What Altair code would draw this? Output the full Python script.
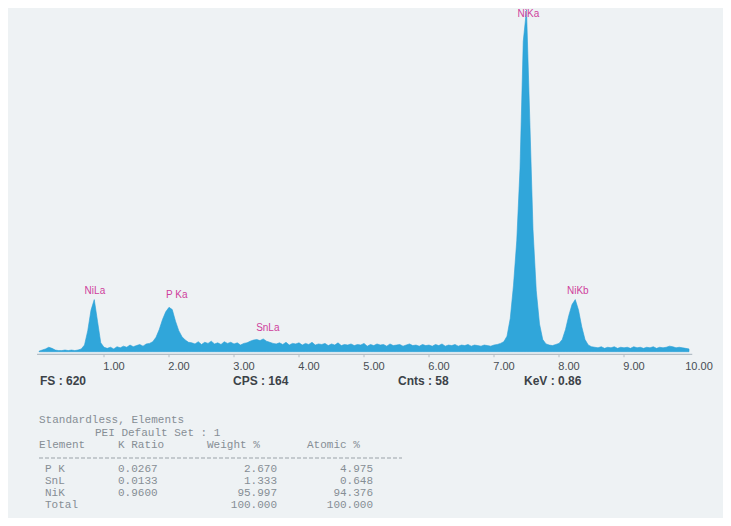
import altair as alt
import pandas as pd

# ---------------- data ----------------
# EDS spectrum, counts per 0.05 keV channel, 0.00 .. 10.00 keV
counts = (
    [1, 3, 5, 8, 6, 3, 2, 2, 3, 2, 3, 2, 3, 5]                      # 0.00-0.65
    + [12, 38, 75, 94, 55, 16, 8]                                   # 0.70-1.00 NiLa
    + [6, 8, 5, 9, 7, 10, 8, 12, 9, 11, 13, 10, 14]                 # 1.05-1.65
    + [15, 18, 26, 40, 58, 72, 80, 76, 55, 38, 27, 21, 17]          # 1.70-2.30 P Ka
    + [16, 14, 18, 13, 17, 15, 19, 14, 16, 13, 18, 15, 17, 14, 16, 12, 15]  # 2.35-3.15
    + [16, 19, 21, 22, 20, 23, 19, 17, 15]                          # 3.20-3.60 SnLa
    + [14, 16, 13, 17, 12, 15, 14, 16, 12, 15,
       13, 17, 12, 14, 13, 15, 11, 14, 12, 16,
       11, 13, 12, 14, 11, 13, 12, 15, 10, 13,
       11, 14, 12, 13, 10, 14, 11, 12, 13, 10,
       12, 14, 11, 12, 10, 13, 11, 12, 10, 13,
       11, 14, 10, 12, 11, 13, 10, 12, 11, 13,
       10, 12, 11, 10, 12, 11, 10, 12, 13, 15]                      # 3.65-7.10
    + [18, 28, 60, 120, 200, 330, 560, 617, 420, 220, 110, 50, 22, 14]  # 7.15-7.80 NiKa
    + [12, 11, 13, 15, 22, 40, 65, 85, 94, 75, 45, 22, 12, 9]       # 7.85-8.50 NiKb
    + [8, 7, 9, 6, 8, 7, 9, 6, 8, 7,
       8, 6, 9, 7, 8, 6, 8, 7, 9, 6,
       8, 7, 8, 10, 9, 7, 8, 7, 6, 5]                               # 8.55-10.00
)
channel_kev = 0.05

tick_values = [1, 2, 3, 4, 5, 6, 7, 8, 9, 10]
tick_labels = ["1.00", "2.00", "3.00", "4.00", "5.00", "6.00", "7.00", "8.00", "9.00", "10.00"]

peak_names = ["NiLa", "P Ka", "SnLa", "NiKa", "NiKb"]
peak_label_kev = [0.86, 2.12, 3.52, 7.53, 8.29]
peak_label_counts = [109, 102, 43, 610, 109]

info_texts = ["FS : 620", "CPS : 164", "Cnts : 58", "KeV : 0.86"]

table_title = ["Standardless, Elements", "PEI Default Set : 1"]
table_header = ["Element", "K Ratio", "Weight %", "Atomic %"]
table_elements = ["P K", "SnL", "NiK", "Total"]
table_kratio = ["0.0267", "0.0133", "0.9600", ""]
table_weight = ["2.670", "1.333", "95.997", "100.000"]
table_atomic = ["4.975", "0.648", "94.376", "100.000"]

# ---------------- layout ----------------
W, H = 715, 510
X_DOMAIN = [-0.477, 10.523]
Y_DOMAIN = [-300, 620]

spec = pd.DataFrame({
    "kev": [round(i * channel_kev, 2) for i in range(len(counts))],
    "counts": counts,
})

xs = alt.Scale(domain=X_DOMAIN, nice=False, zero=False)
ys = alt.Scale(domain=Y_DOMAIN, nice=False, zero=False)

area = alt.Chart(spec).mark_area(
    color="#30a6da", interpolate="linear", stroke="#2a9fd6", strokeWidth=0.6
).encode(
    x=alt.X("kev:Q", scale=xs, axis=None),
    y=alt.Y("counts:Q", scale=ys, axis=None),
    y2=alt.datum(0),
)

axis_df = pd.DataFrame({"x0": [-0.03], "x1": [10.05], "y": [-5]})
axis_line = alt.Chart(axis_df).mark_rule(color="#b3bec6", strokeWidth=1.2).encode(
    x=alt.X("x0:Q", scale=xs, axis=None), x2="x1:Q",
    y=alt.Y("y:Q", scale=ys, axis=None),
)

ticks_df = pd.DataFrame({"v": tick_values[:-1], "ya": -5, "yb": -10})
ticks = alt.Chart(ticks_df).mark_rule(color="#b3bec6", strokeWidth=1).encode(
    x=alt.X("v:Q", scale=xs, axis=None),
    y=alt.Y("ya:Q", scale=ys, axis=None), y2="yb:Q",
)

tl_df = pd.DataFrame({"v": tick_values, "t": tick_labels, "y": -27.7})
tick_text = alt.Chart(tl_df).mark_text(
    font="Liberation Sans", fontSize=11, color="#474d53", dx=10, baseline="middle"
).encode(
    x=alt.X("v:Q", scale=xs, axis=None),
    y=alt.Y("y:Q", scale=ys, axis=None),
    text="t:N",
)

pk_df = pd.DataFrame({"name": peak_names, "kev": peak_label_kev, "c": peak_label_counts})
peak_text = alt.Chart(pk_df).mark_text(
    font="Liberation Sans", fontSize=10, color="#cf3f9c", baseline="middle"
).encode(
    x=alt.X("kev:Q", scale=xs, axis=None),
    y=alt.Y("c:Q", scale=ys, axis=None),
    text="name:N",
)

one = pd.DataFrame({"a": [0]})


def label(txt, px, py, align="left", font="Liberation Sans", size=11,
          color="#3c4248", weight="normal"):
    return alt.Chart(one).mark_text(
        text=txt, align=align, baseline="middle", font=font, fontSize=size,
        color=color, fontWeight=weight,
    ).encode(x=alt.value(px - 8), y=alt.value(py - 8))


texts = []
# info row under the axis
info_x = [40, 233, 398, 524]
for t, px in zip(info_texts, info_x):
    texts.append(label(t, px, 381, size=12, weight="bold"))

# analysis table
mono = "Liberation Mono"
tcol = "#868e95"
tsize = 11
texts.append(label(table_title[0], 39, 420, font=mono, size=tsize, color=tcol))
texts.append(label(table_title[1], 95, 433, font=mono, size=tsize, color=tcol))
for t, px in zip(table_header, [39, 118, 207, 307]):
    texts.append(label(t, px, 445, font=mono, size=tsize, color=tcol))
row_y = [469, 481, 493, 505]
for i, ry in enumerate(row_y):
    texts.append(label(table_elements[i], 45, ry, font=mono, size=tsize, color=tcol))
    if table_kratio[i]:
        texts.append(label(table_kratio[i], 118, ry, font=mono, size=tsize, color=tcol))
    texts.append(label(table_weight[i], 277, ry, align="right", font=mono, size=tsize, color=tcol))
    texts.append(label(table_atomic[i], 373, ry, align="right", font=mono, size=tsize, color=tcol))

dash = alt.Chart(one).mark_rule(color="#9aa2a8", strokeWidth=1, strokeDash=[4, 2]).encode(
    x=alt.value(39 - 8), x2=alt.value(402 - 8), y=alt.value(458 - 8)
)

chart = alt.layer(area, axis_line, ticks, tick_text, peak_text, dash, *texts).properties(
    width=W, height=H,
    background="#eef2f4",
    padding=0,
    autosize=alt.AutoSizeParams(type="none"),
).configure_view(stroke=None)

chart.save("out.html", embed_options={"renderer": "svg", "actions": False})
